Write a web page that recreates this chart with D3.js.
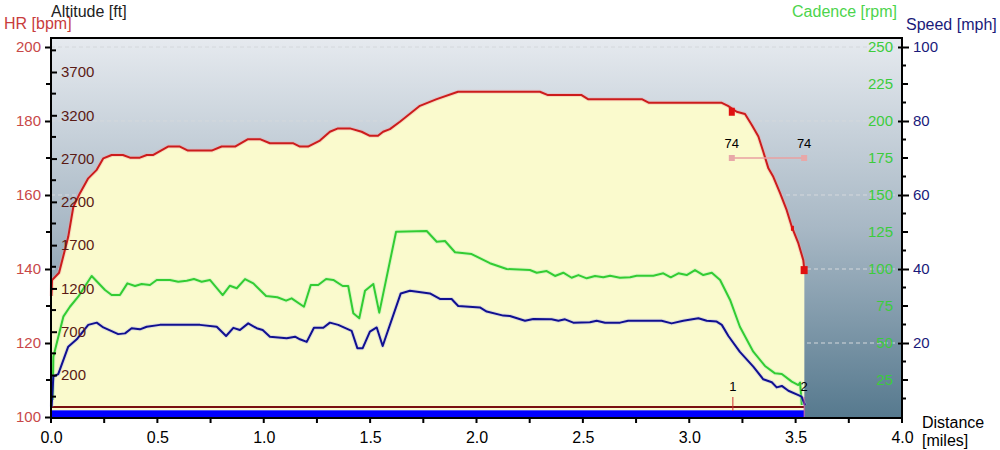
<!DOCTYPE html>
<html><head><meta charset="utf-8">
<script src="https://cdn.jsdelivr.net/npm/d3@7/dist/d3.min.js"></script>
<style>
body{margin:0;background:#fff;}
text{font-family:"Liberation Sans",Arial,sans-serif;}
</style></head>
<body>
<svg id="c" width="1000" height="450"></svg>
<script>
// ---------- data ----------
const hrDist = [0.002,0.005,0.038,0.081,0.105,0.136,0.175,0.215,0.246,0.285,0.338,0.371,0.418,0.450,0.479,0.550,0.606,0.644,0.755,0.802,0.865,0.926,0.982,1.029,1.137,1.170,1.208,1.264,1.311,1.349,1.405,1.460,1.499,1.537,1.561,1.593,1.640,1.734,1.813,1.913,2.298,2.336,2.494,2.524,2.777,2.811,3.153,3.182,3.223,3.262,3.294,3.325,3.348,3.372,3.395,3.427,3.458,3.482,3.513,3.536,3.541];
const hrVals = [132.7,137.0,139.0,148.7,156.8,160.5,164.5,166.8,169.9,170.8,170.8,170.1,170.1,170.8,170.8,173.1,173.1,172.0,172.0,173.1,173.1,175.1,175.1,174.0,174.0,173.1,173.1,174.7,177.1,178.0,178.0,177.1,176.0,176.0,177.1,177.8,179.8,184.1,185.9,187.9,187.9,187.0,187.0,185.9,185.9,184.9,184.9,184.1,182.5,181.9,178.9,175.8,171.7,167.2,164.9,160.5,155.9,151.4,146.9,142.4,139.7];

const cadDist = [0.008,0.011,0.019,0.058,0.089,0.128,0.191,0.254,0.285,0.324,0.359,0.395,0.426,0.465,0.497,0.559,0.598,0.638,0.672,0.708,0.747,0.807,0.841,0.873,0.912,0.951,1.011,1.064,1.105,1.131,1.189,1.221,1.256,1.293,1.327,1.371,1.397,1.421,1.449,1.476,1.515,1.543,1.622,1.766,1.813,1.852,1.899,1.977,2.063,2.142,2.251,2.283,2.330,2.369,2.408,2.447,2.479,2.518,2.557,2.596,2.628,2.674,2.722,2.753,2.831,2.878,2.913,2.949,2.988,3.027,3.066,3.106,3.145,3.192,3.238,3.301,3.356,3.403,3.435,3.482,3.513,3.521,3.529];
const cadVals = [11.5,40.7,45.3,67.8,74.5,81.3,95.3,85.8,82.4,82.4,90.3,88.5,89.9,89.2,92.6,92.6,91.4,92.1,93.2,91.4,92.6,82.4,88.7,87.0,93.2,90.3,81.8,80.9,78.6,80.2,74.5,89.2,89.2,93.2,92.6,88.5,88.5,70.1,66.7,85.3,89.9,70.5,125.2,125.7,118.4,118.9,111.3,110.1,103.9,100.0,99.3,97.5,98.6,95.3,97.5,94.1,95.9,93.7,95.3,94.4,95.5,94.1,94.4,95.5,95.5,97.1,94.4,97.1,95.9,99.3,95.9,97.5,92.6,79.1,61.0,44.1,34.5,29.5,29.1,23.9,21.6,23.2,8.1];

const spdDist = [0.003,0.011,0.034,0.081,0.121,0.175,0.215,0.246,0.316,0.348,0.379,0.418,0.450,0.512,0.700,0.779,0.823,0.857,0.888,0.927,0.967,0.995,1.029,1.108,1.147,1.170,1.202,1.236,1.280,1.311,1.350,1.413,1.440,1.465,1.499,1.531,1.559,1.644,1.687,1.781,1.828,1.883,1.914,2.016,2.048,2.126,2.157,2.228,2.267,2.353,2.385,2.416,2.455,2.533,2.565,2.604,2.675,2.713,2.870,2.917,2.972,3.043,3.082,3.129,3.153,3.184,3.238,3.301,3.348,3.388,3.411,3.435,3.466,3.513,3.528,3.544];
const spdVals = [2.8,10.9,11.6,19.0,21.0,24.9,25.5,24.2,22.4,22.6,24.0,23.7,24.4,24.9,24.9,24.4,21.9,24.1,23.5,25.3,24.0,23.5,21.7,21.3,21.7,21.0,20.3,24.1,24.1,25.5,24.9,23.3,18.6,18.6,23.1,24.2,19.2,33.4,34.1,33.4,31.9,31.9,30.0,29.6,28.5,27.4,27.3,26.0,26.5,26.4,26.0,26.4,25.5,25.6,26.0,25.5,25.5,26.0,26.0,25.3,26.0,26.7,26.0,25.8,24.9,21.9,17.6,13.6,10.2,9.4,8.0,8.4,7.1,5.9,5.5,3.2];

const markerDist = [3.20, 3.485, 3.54];
const markerHR = [182.5, 151.0, 139.7];
const rangeDist = [3.20, 3.54];
const rangeHR = [170, 170];
const rangeLabels = ["74", "74"];
const lapDist = [3.205, 3.54];
const lapLabels = ["1", "2"];
const totalDist = [0, 3.54];

const xTicks = [0,0.5,1,1.5,2,2.5,3,3.5,4];
const hrTicks = [100,120,140,160,180,200];
const altTicks = [200,700,1200,1700,2200,2700,3200,3700];
const cadTicks = [25,50,75,100,125,150,175,200,225,250];
const spdTicks = [20,40,60,80,100];
const gridHR = [120,140,160,180,200];

// ---------- layout ----------
const L = 51, R = 902, T = 38, B = 418;
const svg = d3.select("#c");
const x = d3.scaleLinear().domain([0,4]).range([L,R]);
const yHR = d3.scaleLinear().domain([100,200]).range([417,47]);
const yAlt = d3.scaleLinear().domain([200,3700]).range([375,72]);
const yCad = d3.scaleLinear().domain([0,250]).range([417,47]);
const ySpd = d3.scaleLinear().domain([0,100]).range([417,47]);

const defs = svg.append("defs");
const g = defs.append("linearGradient").attr("id","bg").attr("x1",0).attr("y1",0).attr("x2",0).attr("y2",1);
g.append("stop").attr("offset","0%").attr("stop-color","#e6eaef");
g.append("stop").attr("offset","50%").attr("stop-color","#a8b8c5");
g.append("stop").attr("offset","100%").attr("stop-color","#56798e");

svg.append("rect").attr("x",L).attr("y",T).attr("width",R-L).attr("height",B-T).attr("fill","url(#bg)");

// grid
svg.append("g").selectAll("line").data(gridHR).join("line")
  .attr("x1",L).attr("x2",R).attr("y1",d=>yHR(d)).attr("y2",d=>yHR(d))
  .attr("stroke","#d4d8dc").attr("stroke-dasharray","4,3").attr("stroke-width",1);

const hrData = hrDist.map((d,i)=>[d,hrVals[i]]);
// fill
svg.append("path").datum(hrData)
  .attr("d", d3.area().x(d=>x(d[0])).y0(B).y1(d=>yHR(d[1])))
  .attr("fill","#fafacd");

// bottom bars
svg.append("rect").attr("x",x(totalDist[0])).attr("width",x(totalDist[1])-x(totalDist[0]))
  .attr("y",yHR(101.8)).attr("height",yHR(100)-yHR(101.8)+1).attr("fill","#0000ff");
svg.append("line").attr("x1",x(totalDist[0])).attr("x2",x(totalDist[1]))
  .attr("y1",yHR(102.7)).attr("y2",yHR(102.7)).attr("stroke","#7a1010").attr("stroke-width",2);

// lines
const cadData = cadDist.map((d,i)=>[d,cadVals[i]]);
const spdData = spdDist.map((d,i)=>[d,spdVals[i]]);
function drawLine(data, ys, color, glow){
  const gen = d3.line().x(d=>x(d[0])).y(d=>ys(d[1]));
  svg.append("path").datum(data).attr("d",gen).attr("fill","none")
    .attr("stroke",glow).attr("stroke-width",4).attr("stroke-opacity",0.35).attr("stroke-linejoin","round");
  svg.append("path").datum(data).attr("d",gen).attr("fill","none")
    .attr("stroke",color).attr("stroke-width",2).attr("stroke-linejoin","round");
}
drawLine(cadData, yCad, "#33cc33", "#aaf0aa");
drawLine(spdData, ySpd, "#101090", "#b0b0e8");
drawLine(hrData, yHR, "#cc1c1c", "#f0a0a0");

// red markers
const msz = [[6,8],[3,5],[7,8]];
svg.append("g").selectAll("rect").data(markerDist).join("rect")
  .attr("x",(d,i)=>x(d)-msz[i][0]/2).attr("y",(d,i)=>yHR(markerHR[i])-msz[i][1]/2)
  .attr("width",(d,i)=>msz[i][0]).attr("height",(d,i)=>msz[i][1]).attr("fill","#e01010");

// range indicator
svg.append("line").attr("x1",x(rangeDist[0])).attr("x2",x(rangeDist[1]))
  .attr("y1",yHR(rangeHR[0])).attr("y2",yHR(rangeHR[1])).attr("stroke","#e8a0a0").attr("stroke-width",1.5);
svg.append("g").selectAll("rect").data(rangeDist).join("rect")
  .attr("x",d=>x(d)-3).attr("y",(d,i)=>yHR(rangeHR[i])-3).attr("width",6).attr("height",6).attr("fill","#e8a8a8");
svg.append("g").selectAll("text").data(rangeDist).join("text")
  .attr("x",d=>x(d)).attr("y",(d,i)=>yHR(rangeHR[i])-10).attr("text-anchor","middle")
  .attr("font-size",13).attr("fill","#000").text((d,i)=>rangeLabels[i]);

// laps
svg.append("g").selectAll("text").data(lapDist).join("text")
  .attr("x",d=>x(d)).attr("y",391).attr("text-anchor","middle")
  .attr("font-size",13).attr("fill","#000").text((d,i)=>lapLabels[i]);
svg.append("line").attr("x1",x(lapDist[0])).attr("x2",x(lapDist[0])).attr("y1",397).attr("y2",411)
  .attr("stroke","#d03030").attr("stroke-width",1);
svg.append("line").attr("x1",x(lapDist[1])).attr("x2",x(lapDist[1])).attr("y1",397).attr("y2",417)
  .attr("stroke","#c050a0").attr("stroke-width",1);

// ---------- axes ----------
const fs = 15;
// HR axis (left, outward)
const aHR = svg.append("g").attr("transform",`translate(${L},0)`)
  .call(d3.axisLeft(yHR).tickValues(hrTicks).tickSize(6).tickPadding(4).tickFormat(d3.format("d")));
aHR.select(".domain").remove();
aHR.selectAll("text").attr("font-size",fs).attr("fill","#c84848").attr("font-family","Liberation Sans, Arial");
aHR.selectAll("line").attr("stroke","#000").attr("stroke-width",2);
svg.append("g").selectAll("line").data(d3.range(110,201,20)).join("line")
  .attr("x1",L-5).attr("x2",L).attr("y1",d=>yHR(d)).attr("y2",d=>yHR(d)).attr("stroke","#000").attr("stroke-width",2);

// Altitude axis (inside)
const aAlt = svg.append("g").attr("transform",`translate(${L},0)`)
  .call(d3.axisRight(yAlt).tickValues(altTicks).tickSize(6).tickPadding(4).tickFormat(d3.format("d")));
aAlt.select(".domain").remove();
aAlt.selectAll("text").attr("font-size",fs).attr("fill","#5a1a14").attr("font-family","Liberation Sans, Arial");
aAlt.selectAll("line").attr("stroke","#000").attr("stroke-width",2);
svg.append("g").selectAll("line").data(d3.range(-50,3951,500)).join("line")
  .attr("x1",L).attr("x2",L+5).attr("y1",d=>yAlt(d)).attr("y2",d=>yAlt(d)).attr("stroke","#000").attr("stroke-width",2);

// Cadence axis (labels inside right)
const aCad = svg.append("g").attr("transform",`translate(${R},0)`)
  .call(d3.axisLeft(yCad).tickValues(cadTicks).tickSize(0).tickPadding(9).tickFormat(d3.format("d")));
aCad.select(".domain").remove();
aCad.selectAll("text").attr("font-size",fs).attr("fill","#3ccc3c").attr("font-family","Liberation Sans, Arial");

// Speed axis (right, outward)
const aSpd = svg.append("g").attr("transform",`translate(${R},0)`)
  .call(d3.axisRight(ySpd).tickValues(spdTicks).tickSize(7).tickPadding(4).tickFormat(d3.format("d")));
aSpd.select(".domain").remove();
aSpd.selectAll("text").attr("font-size",fs).attr("fill","#1a1a7a").attr("font-family","Liberation Sans, Arial");
aSpd.selectAll("line").attr("stroke","#000").attr("stroke-width",2).attr("x1",-4);
svg.append("g").selectAll("line").data(d3.range(5,100,5).filter(v=>v%20!==0)).join("line")
  .attr("x1",R).attr("x2",d=>R+(d%10===0?6:4)).attr("y1",d=>ySpd(d)).attr("y2",d=>ySpd(d))
  .attr("stroke","#000").attr("stroke-width",2);

// X axis
const aX = svg.append("g").attr("transform",`translate(0,${B})`)
  .call(d3.axisBottom(x).tickValues(xTicks).tickSize(0).tickPadding(14).tickFormat(d3.format(".1f")));
aX.select(".domain").remove();
aX.selectAll("text").attr("font-size",16).attr("fill","#000").attr("font-family","Liberation Sans, Arial");
svg.append("g").selectAll("line").data(d3.range(0,4.01,0.25)).join("line")
  .attr("x1",d=>x(d)).attr("x2",d=>x(d)).attr("y1",B).attr("y2",B+5).attr("stroke","#000").attr("stroke-width",2);

// frame
svg.append("line").attr("x1",L).attr("x2",R).attr("y1",T).attr("y2",T).attr("stroke","#000").attr("stroke-width",2);
svg.append("line").attr("x1",L-1).attr("x2",R+1).attr("y1",B).attr("y2",B).attr("stroke","#000").attr("stroke-width",2);
svg.append("line").attr("x1",L).attr("x2",L).attr("y1",T-1).attr("y2",B+1).attr("stroke","#000").attr("stroke-width",2);
svg.append("line").attr("x1",R).attr("x2",R).attr("y1",T-1).attr("y2",B+1).attr("stroke","#000").attr("stroke-width",2);

// titles
svg.append("text").attr("x",51).attr("y",17).attr("font-size",16).attr("fill","#222").text("Altitude [ft]");
svg.append("text").attr("x",4).attr("y",29).attr("font-size",16).attr("fill","#c83c3c").text("HR [bpm]");
svg.append("text").attr("x",897).attr("y",17).attr("font-size",16).attr("fill","#4cd44c").attr("text-anchor","end").text("Cadence [rpm]");
svg.append("text").attr("x",906).attr("y",30).attr("font-size",16).attr("fill","#1a1a7a").text("Speed [mph]");
svg.append("text").attr("x",922).attr("y",428).attr("font-size",16).attr("fill","#000").text("Distance");
svg.append("text").attr("x",922).attr("y",446).attr("font-size",16).attr("fill","#000").text("[miles]");
</script>
</body></html>
